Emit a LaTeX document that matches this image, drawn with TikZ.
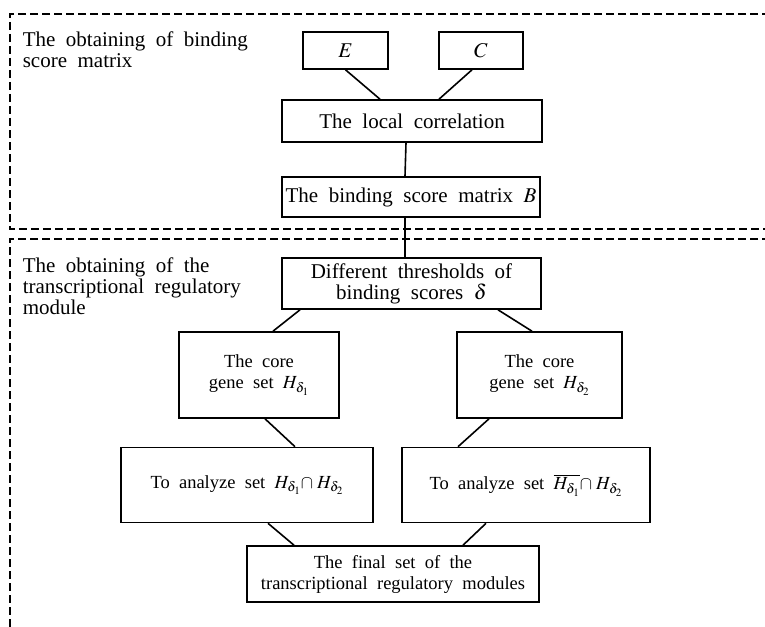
\documentclass[tikz,border=0pt]{standalone}
\usepackage{mathptmx}
\usepackage{fontspec}
\setmainfont{Liberation Serif}[WordSpace=2.0]
\usepackage{tikz}
\usetikzlibrary{positioning}

\begin{document}
\begin{tikzpicture}[x=1pt, y=-1pt, line width=1.6pt,
    font=\fontsize{21}{21}\selectfont,
    box/.style={draw, inner sep=0pt, align=center},
    lower/.style={box, font=\fontsize{18.5}{21}\selectfont},
    frame/.style={dash pattern=on 8pt off 4pt}]
            \useasboundingbox (0,0) rectangle (765,626);
            \clip (0,0) rectangle (765,626);

            % dashed frames of the two stages
            \draw[frame] (770,14) -- (10,14) -- (10,229) -- (770,229);
            \draw[frame] (770,239) -- (10,239) -- (10,630);

            \node[anchor=north west, align=left, inner sep=0pt] (lab1) at (22,31)
                {The obtaining of binding\\score matrix};
            \node[anchor=north west, align=left, inner sep=0pt] (lab2) at (22,257)
                {The obtaining of the\\transcriptional regulatory\\module};

            \node[box, minimum width=85pt, minimum height=37pt] (E) at (345.5,50.5) {$E$};
            \node[box, minimum width=84pt, minimum height=37pt] (C) at (481,50.5) {$C$};
            \node[box, minimum width=260pt, minimum height=42pt] (loc) at (412,121) {The local correlation};
            \node[box, minimum width=258pt, minimum height=40pt] (bsm) at (411,197) {The binding score matrix $B$};
            \node[box, minimum width=259pt, minimum height=51pt] (thr) at (411.5,283.5) {Different thresholds of\\binding scores $\delta$};
            \node[lower, minimum width=160pt, minimum height=86pt] (core1) at (259,375) {The core\\gene set $H_{\delta_1}$};
            \node[lower, minimum width=165pt, minimum height=86pt] (core2) at (539.5,375) {The core\\gene set $H_{\delta_2}$};
            \node[lower, minimum width=252pt, minimum height=75pt] (ana1) at (247,485) {To analyze set $H_{\delta_1}{\cap}\;H_{\delta_2}$};
            \node[lower, minimum width=248pt, minimum height=75pt] (ana2) at (526,485) {To analyze set $\overline{H_{\delta_1}}{\cap}\;H_{\delta_2}$};
            \node[lower, minimum width=292pt, minimum height=56pt] (fin) at (393,574) {The final set of the\\transcriptional regulatory modules};

            \path[draw]
            (E.south) edge ([xshift=-32pt]loc.north)
            ([xshift=-9pt]C.south) edge ([xshift=27pt]loc.north)
            ([xshift=-6pt]loc.south) edge ([xshift=-6pt]bsm.north)
            ([xshift=-6pt]bsm.south) edge ([xshift=-6.5pt]thr.north)
            ([xshift=-111.5pt]thr.south) edge ([xshift=14pt]core1.north)
            ([xshift=86.5pt]thr.south) edge ([xshift=-7.5pt]core2.north)
            ([xshift=6pt]core1.south) edge ([xshift=48pt]ana1.north)
            ([xshift=-50.5pt]core2.south) edge ([xshift=-68pt]ana2.north)
            ([xshift=21pt]ana1.south) edge ([xshift=-99pt]fin.north)
            ([xshift=-40pt]ana2.south) edge ([xshift=70pt]fin.north);
        \end{tikzpicture}
\end{document}
